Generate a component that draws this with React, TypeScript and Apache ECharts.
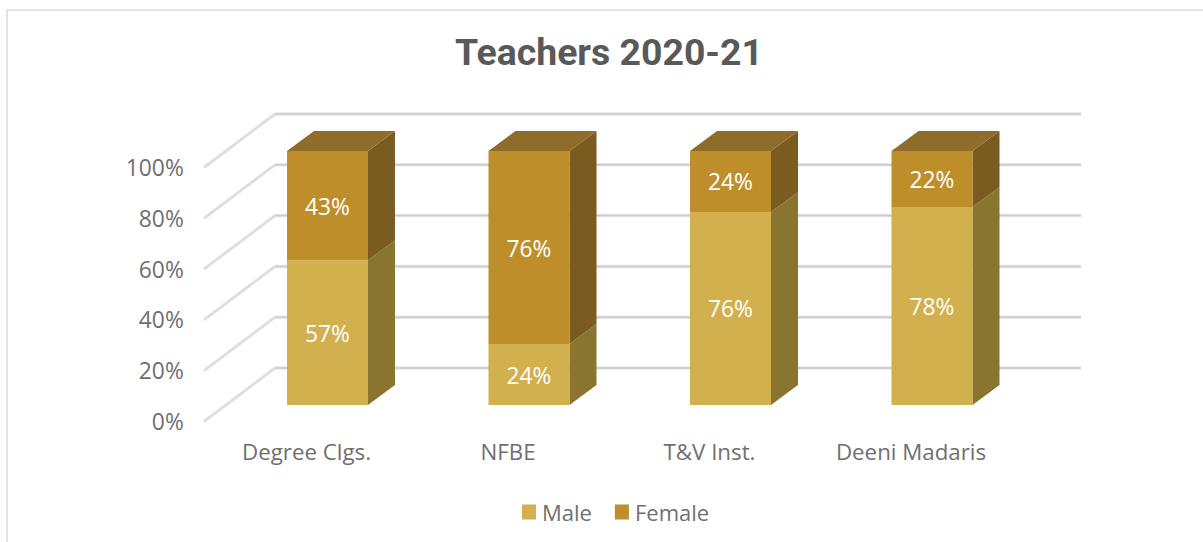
import React, { useEffect, useRef } from "react";
import * as echarts from "echarts";

const titleText = "Teachers 2020-21";
const categories = ["Degree Clgs.", "NFBE", "T&V Inst.", "Deeni Madaris"];
const male = [57, 24, 76, 78];
const female = [43, 76, 24, 22];
const yTicks = [0, 20, 40, 60, 80, 100];

const FONT = "'Open Sans', sans-serif";
const TEXT = "#6f6f6f";
const BAR_SHIFT_X = 21;
const BAR_SHIFT_Y = -15;
const BAR_W = 81;
const DX = 27;
const DY = -20;

function face(a: number[], b: number[]) {
  return [a, b, [b[0] + DX, b[1] + DY], [a[0] + DX, a[1] + DY]];
}

function barRender(front: string, side: string, top: string | null) {
  return (params: any, api: any) => {
    const idx = api.value(0);
    const from = api.value(1);
    const to = api.value(2);
    const c0 = api.coord([idx, from]);
    const c1 = api.coord([idx, to]);
    const x0 = c0[0] + BAR_SHIFT_X - BAR_W / 2;
    const x1 = x0 + BAR_W;
    const yb = c0[1] + BAR_SHIFT_Y;
    const yt = c1[1] + BAR_SHIFT_Y;
    const children: any[] = [
      { type: "polygon", shape: { points: face([x1, yb], [x1, yt]) }, style: { fill: side } },
      { type: "rect", shape: { x: x0, y: yt, width: BAR_W, height: yb - yt }, style: { fill: front } },
    ];
    if (top) {
      children.push({ type: "polygon", shape: { points: face([x0, yt], [x1, yt]) }, style: { fill: top } });
    }
    children.push({
      type: "text",
      style: {
        x: (x0 + x1) / 2,
        y: (yb + yt) / 2 + 0.5,
        text: `${to - from}%`,
        fill: "#ffffff",
        font: `22.8px ${FONT}`,
        align: "center",
        verticalAlign: "middle",
      },
    });
    return { type: "group", children };
  };
}

export default function App() {
  const ref = useRef<HTMLDivElement>(null);
  useEffect(() => {
    const chart = echarts.init(ref.current!, undefined, { renderer: "svg" });
    chart.setOption({
      animation: false,
      backgroundColor: "#ffffff",
      title: {
        text: titleText,
        left: 604,
        top: 28,
        textAlign: "center",
        textStyle: { fontFamily: "Roboto", fontWeight: "bold", fontSize: 37.4, color: "#595959" },
      },
      legend: {
        left: 517,
        top: 496,
        itemWidth: 14,
        itemHeight: 15,
        itemGap: 23,
        icon: "rect",
        data: ["Male", "Female"],
        textStyle: { fontFamily: FONT, fontSize: 22, color: TEXT, padding: [0, 0, 0, 1] },
      },
      grid: { left: 205.75, width: 806, top: 166, height: 254, containLabel: false },
      xAxis: {
        type: "category",
        data: categories,
        axisLine: { show: false },
        axisTick: { show: false },
        axisLabel: { margin: 20, fontFamily: FONT, fontSize: 22.3, color: TEXT, interval: 0 },
      },
      yAxis: {
        type: "value",
        min: 0,
        max: 100,
        interval: 20,
        axisLine: { show: false },
        axisTick: { show: false },
        splitLine: { show: false },
        axisLabel: {
          margin: 22,
          color: TEXT,
          formatter: "{a|{value}%}",
          rich: {
            a: { fontFamily: FONT, fontSize: 22.8, color: TEXT, padding: [3, 0, 0, 0] },
          },
        },
      },
      graphic: [
        {
          type: "rect",
          silent: true,
          z: -1,
          shape: { x: 7, y: 10, width: 1300, height: 600 },
          style: { fill: "none", stroke: "#d9d9d9", lineWidth: 1.5 },
        },
      ],
      series: [
        {
          type: "custom",
          name: "walls",
          z: 1,
          silent: true,
          data: yTicks.map((v) => [0, v]),
          encode: { x: 0, y: 1 },
          renderItem: (params: any, api: any) => {
            const y = api.coord([0, api.value(1)])[1];
            return {
              type: "group",
              children: [
                {
                  type: "line",
                  shape: { x1: 204, y1: y + 1.5, x2: 275, y2: y - 52 },
                  style: { stroke: "#ebe9e9", lineWidth: 3.5 },
                },
                {
                  type: "line",
                  shape: { x1: 204, y1: y + 1.5, x2: 275, y2: y - 52 },
                  style: { stroke: "#d8d6d6", lineWidth: 1.2 },
                },
                {
                  type: "line",
                  shape: { x1: 275, y1: y - 52, x2: 1081, y2: y - 52 },
                  style: { stroke: "#e6e6e6", lineWidth: 3.5 },
                },
                {
                  type: "line",
                  shape: { x1: 275, y1: y - 52, x2: 1081, y2: y - 52 },
                  style: { stroke: "#cbcbcb", lineWidth: 1.5 },
                },
              ],
            };
          },
        },
        {
          type: "custom",
          name: "Male",
          z: 2,
          silent: true,
          color: "#d2b04e",
          itemStyle: { color: "#d2b04e" },
          data: male.map((v, i) => [i, 0, v]),
          encode: { x: 0, y: [1, 2] },
          renderItem: barRender("#d2b04e", "#8a7530", null),
        },
        {
          type: "custom",
          name: "Female",
          z: 3,
          silent: true,
          color: "#be8e2b",
          itemStyle: { color: "#be8e2b" },
          data: female.map((v, i) => [i, male[i], male[i] + v]),
          encode: { x: 0, y: [1, 2] },
          renderItem: barRender("#be8e2b", "#7a5c20", "#8f6c2a"),
        },
      ],
    });
    return () => chart.dispose();
  }, []);
  return (
    <div
      ref={ref}
      style={{ position: "absolute", left: 0, top: 0, width: 1203, height: 542, overflow: "hidden" }}
    />
  );
}
